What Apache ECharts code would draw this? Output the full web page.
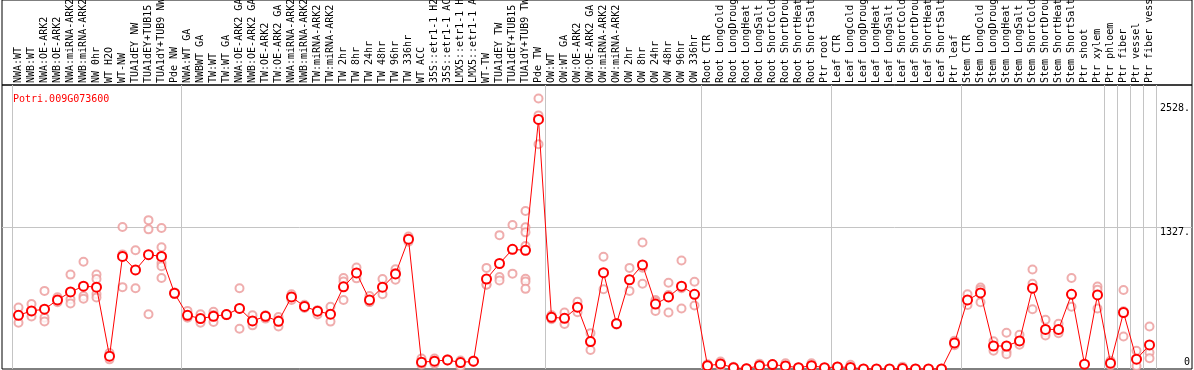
<!DOCTYPE html>
<html>
<head>
<meta charset="utf-8">
<script src="https://cdn.jsdelivr.net/npm/echarts@6/dist/echarts.min.js"></script>
<style>
html,body{margin:0;padding:0;background:#fff;}
#c{width:1194px;height:370px;}
</style>
</head>
<body>
<div id="c"></div>
<script>
var title = 'Potri.009G073600';
var categories = [
'NWA:WT','NWB:WT','NWA:OE-ARK2','NWB:OE-ARK2','NWA:miRNA-ARK2','NWB:miRNA-ARK2','NW 0hr','WT H2O','WT-NW','TUA1dEY NW','TUA1dEY+TUB15 NW','TUA1dY+TUB9 NW','Pde NW',
'NWA:WT GA','NWBWT GA','TW:WT','TW:WT GA','NWA:OE-ARK2 GA','NWB:OE-ARK2 GA','TW:OE-ARK2','TW:OE-ARK2 GA','NWA:miRNA-ARK2 GA','NWB:miRNA-ARK2 GA','TW:miRNA-ARK2','TW:miRNA-ARK2 GA','TW 2hr','TW 8hr','TW 24hr','TW 48hr','TW 96hr','TW 336hr','WT ACC','35S::etr1-1 H2O','35S::etr1-1 ACC','LMX5::etr1-1 H2O','LMX5::etr1-1 ACC','WT-TW','TUA1dEY TW','TUA1dEY+TUB15 TW','TUA1dY+TUB9 TW','Pde TW',
'OW:WT','OW:WT GA','OW:OE-ARK2','OW:OE-ARK2 GA','OW:miRNA-ARK2','OW:miRNA-ARK2 GA','OW 2hr','OW 8hr','OW 24hr','OW 48hr','OW 96hr','OW 336hr',
'Root CTR','Root LongCold','Root LongDrought','Root LongHeat','Root LongSalt','Root ShortCold','Root ShortDrought','Root ShortHeat','Root ShortSalt','Ptr root',
'Leaf CTR','Leaf LongCold','Leaf LongDrought','Leaf LongHeat','Leaf LongSalt','Leaf ShortCold','Leaf ShortDrought','Leaf ShortHeat','Leaf ShortSalt','Ptr leaf',
'Stem CTR','Stem LongCold','Stem LongDrought','Stem LongHeat','Stem LongSalt','Stem ShortCold','Stem ShortDrought','Stem ShortHeat','Stem ShortSalt','Ptr shoot','Ptr xylem',
'Ptr phloem','Ptr fiber','Ptr vessel','Ptr fiber vessel'
];
var groupStarts = [0, 13, 41, 53, 63, 73, 84, 85, 86, 87];
var means = [
502,543,559,645,720,774,765,120,1052,926,1068,1052,708,
502,471,493,509,566,449,493,446,673,585,540,512,768,898,645,765,888,1213,64,73,85,60,73,841,986,1118,1109,2332,
483,474,578,256,900,423,834,973,607,673,774,698,
31,47,12,3,31,41,28,12,31,12,
19,15,1,0,0,5,1,0,1,244,
645,711,215,215,262,755,370,370,698,45,692,
54,528,92,225
];
var replicates = [
[575,502,433],[607,534,490],[730,480,445],[670,645,623],[882,651,613],[1002,682,657],[882,841,700,668],[150,120,90],[1327,1071,765],[1109,926,755],[1391,1305,512],[1318,1137,1052,990,960,850],[715,700],
[543,486,480],[512,468,433],[534,505,439],[515,509,503],[755,566,376],[502,449,408],[502,493,471],[486,455,398],[698,673,645],[600,585,570],[550,540,509],[581,512,443],[850,818,645],[948,898,847],[682,629,625],[841,765,698],[932,898,834],[1239,1213,1190],[98,55,40],[98,73,50],[90,85,80],[80,60,22],[80,73,66],[945,790,787],[1251,860,828],[1346,1118,891],[1476,1324,1277,1150,844,818,749],[2528,2370,2100],
[502,483,465],[528,474,420],[629,578,530],[335,256,177],[1049,900,746],[430,423,415],[945,834,730],[1182,947,796],[645,630,543],[806,692,528],[1014,755,566],[815,698,594],
[45,31,17],[69,50,22],[20,12,5],[6,3,1],[50,31,12],[45,41,37],[54,25,6],[15,12,9],[54,30,10],[12],
[22,19,16],[40,5,1],[2,0,0],[1],[0],[22,3,0],[2,1,0],[0],[2,1,0],[265,244,222],
[698,645,598],[761,740,623],[259,215,171],[338,215,161,139],[319,262,227],[929,796,559],[461,338,313],[423,355,335],[850,698,581],[45],[771,740,566],
[76,54,32],[739,540,303],[171,92,28],[398,155,101]
];
var yTickValues = [1327, 2528];
var yZeroTick = [0];
var yMax = 2654;
var yGridStep = 1327;

var repPoints = [];
replicates.forEach(function (arr, i) {
  arr.forEach(function (v) { repPoints.push([categories[i], v]); });
});
function isGroupStart(idx) { return groupStarts.indexOf(idx) >= 0; }

var MONO = 'DejaVu Sans Mono';
var chart = echarts.init(document.getElementById('c'), null, {renderer: 'canvas'});
chart.setOption({
  animation: false,
  backgroundColor: '#fff',
  title: {
    text: title, left: 8, top: 89,
    textStyle: {color: '#ff0000', fontFamily: MONO, fontSize: 10, fontWeight: 'normal'}
  },
  grid: [
    {left: 2, right: 2, top: 0, height: 85, show: true, borderColor: '#000', borderWidth: 1, backgroundColor: 'transparent', outerBoundsMode: 'none', containLabel: false},
    {left: 2, right: 2, top: 85, bottom: 1, show: true, borderColor: '#000', borderWidth: 1, backgroundColor: 'transparent', outerBoundsMode: 'none', containLabel: false},
    {left: 12, right: 38, top: 85, bottom: 1, outerBoundsMode: 'none', containLabel: false}
  ],
  xAxis: [
    {gridIndex: 0, type: 'value', show: false},
    {gridIndex: 1, type: 'value', show: false},
    {
      gridIndex: 2, type: 'category', position: 'top', data: categories, boundaryGap: true,
      axisLine: {show: false},
      axisTick: {show: true, interval: isGroupStart, length: 85, lineStyle: {color: '#c4c4c4', width: 1}},
      splitLine: {show: true, interval: isGroupStart, lineStyle: {color: '#c4c4c4', width: 1}},
      axisLabel: {interval: 0, rotate: 90, margin: 2, color: '#000', fontFamily: MONO, fontSize: 10, hideOverlap: false}
    }
  ],
  yAxis: [
    {gridIndex: 0, type: 'value', show: false},
    {
      gridIndex: 1, type: 'value', position: 'right', min: 0, max: yMax, interval: yGridStep,
      axisLine: {show: false}, axisTick: {show: false},
      splitLine: {show: true, lineStyle: {color: ['rgba(0,0,0,0)', '#c4c4c4', 'rgba(0,0,0,0)', 'rgba(0,0,0,0)'], width: 1}},
      axisLabel: {
        inside: true, margin: 2, customValues: yTickValues, verticalAlign: 'top',
        color: '#000', fontFamily: MONO, fontSize: 10,
        formatter: function (v) { return v === 2528 ? '{lo|' + v + '.}' : v + '.'; },
        rich: {lo: {padding: [5, 0, 0, 0], color: '#000', fontFamily: MONO, fontSize: 10}}
      }
    },
    {
      gridIndex: 1, type: 'value', position: 'right', min: 0, max: yMax,
      axisLine: {show: false}, axisTick: {show: false}, splitLine: {show: false},
      axisLabel: {
        inside: true, margin: 2, customValues: yZeroTick, verticalAlign: 'bottom', padding: [0, 0, 2, 0],
        color: '#000', fontFamily: MONO, fontSize: 10,
        formatter: function (v) { return String(v); }
      }
    },
    {gridIndex: 2, type: 'value', min: 0, max: yMax, show: false}
  ],
  series: [
    {
      type: 'scatter', xAxisIndex: 2, yAxisIndex: 3, data: repPoints,
      symbol: 'emptyCircle', symbolSize: 8, z: 3,
      itemStyle: {color: '#eb9898', borderColor: '#eb9898', borderWidth: 1}
    },
    {
      type: 'line', xAxisIndex: 2, yAxisIndex: 3, data: means,
      symbol: 'emptyCircle', symbolSize: 9, z: 5,
      itemStyle: {color: '#ff0000', borderColor: '#ff0000', borderWidth: 1.1},
      lineStyle: {color: '#ff0000', width: 1}
    }
  ]
});
</script>
</body>
</html>
